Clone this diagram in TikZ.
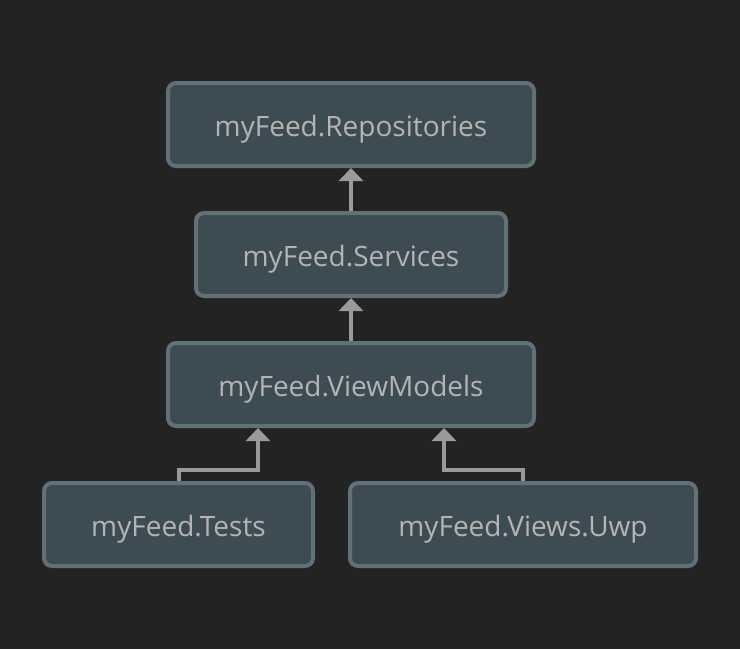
\documentclass[tikz,border=0pt]{standalone}
\usepackage{fontspec}
\setmainfont{Open Sans}
\usetikzlibrary{arrows.meta}
\definecolor{bgc}{HTML}{232323}
\definecolor{boxfill}{HTML}{3D4C53}
\definecolor{boxline}{HTML}{627078}
\definecolor{txt}{HTML}{B4B4B4}
\definecolor{conn}{HTML}{9A9A9A}
\tikzset{
  pkg/.style={draw=boxline, fill=boxfill, line width=4pt, rounded corners=8pt,
    minimum height=83pt, text=txt, font=\fontsize{28}{32}\selectfont, inner sep=0pt,
    text height=26pt, text depth=2pt},
  dep/.style={draw=conn, line width=4pt, -{Triangle[width=24pt,length=13pt]}}
}
\begin{document}
\begin{tikzpicture}[x=1pt,y=-1pt]
\fill[bgc] (0,0) rectangle (740,649);
\useasboundingbox (0,0) rectangle (740,649);
\node[pkg, minimum width=366pt] (repo) at (351,124.5) {myFeed.Repositories};
\node[pkg, minimum width=310pt] (svc) at (351,254.5) {myFeed.Services};
\node[pkg, minimum width=366pt] (vm) at (351,384.5) {myFeed.ViewModels};
\node[pkg, minimum width=269pt] (tests) at (178.5,524.5) {myFeed.Tests};
\node[pkg, minimum width=346pt] (uwp) at (523,524.5) {myFeed.Views.Uwp};
\draw[dep] (svc.north) -- (repo.south);
\draw[dep] (vm.north) -- (svc.south);
\draw[dep] (tests.north -| 179,0) |- (258,470) -- (vm.south -| 258,0);
\draw[dep] (uwp.north) |- (444,470) -- (vm.south -| 444,0);
\end{tikzpicture}
\end{document}
